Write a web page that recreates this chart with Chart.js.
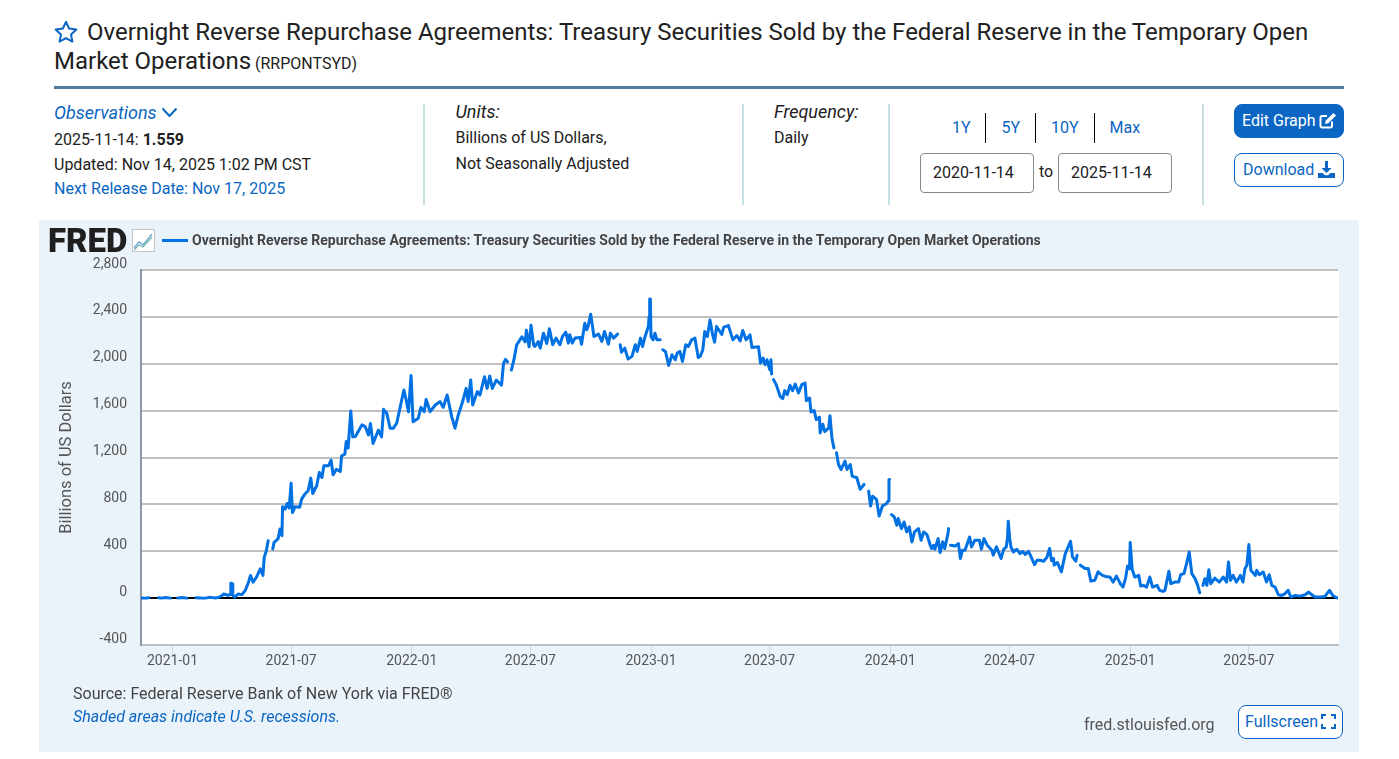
<!DOCTYPE html>
<html><head><meta charset="utf-8">
<title>RRPONTSYD</title>
<script src="https://cdn.jsdelivr.net/npm/chart.js@4"></script>
<style>
html,body{margin:0;padding:0;background:#fff;overflow:hidden}
body{width:1399px;height:759px;position:relative;font-family:Roboto,sans-serif;color:#212121;font-size:16px}
.t{position:absolute;line-height:20px;white-space:nowrap}
.b{color:#0a66c2}.i{font-style:italic;font-size:18px}
.v{position:absolute;top:104px;height:101px;width:2px;background:#c9dfe6}
.k{position:absolute;top:113px;height:30px;width:1px;background:#000}
.box{position:absolute;box-sizing:border-box;border:1px solid #8a8a8a;border-radius:4px;top:153px;height:40px;width:114px;line-height:38px;padding-left:12px;background:#fff}
.btn{position:absolute;box-sizing:border-box;left:1234px;width:110px;height:34px;border-radius:8px;border:1px solid #0a66c2;line-height:31px;padding-left:7px;white-space:nowrap}
svg{position:absolute}
#panel{position:absolute;left:39px;top:220px;width:1320px;height:532px;background:#eaf2fa}
#c{position:absolute;left:0;top:0}
</style></head><body>
<svg style="left:54px;top:20px" width="24" height="24" viewBox="0 0 24 24"><path d="M12 1.800l3.100 6.700 7.300.9-5.400 5 1.400 7.200L12 18.100l-6.400 3.500L7 14.400 1.600 9.400l7.300-.9z" fill="none" stroke="#0a66c2" stroke-width="2" stroke-linejoin="round"/></svg>
<div class="t" style="left:87px;top:17px;font-size:24px;line-height:30px;letter-spacing:-0.01px">Overnight Reverse Repurchase Agreements: Treasury Securities Sold by the Federal Reserve in the Temporary Open</div>
<div class="t" style="left:54px;top:46px;font-size:24px;line-height:30px">Market Operations <span style="font-size:16px;margin-left:-2px">(RRPONTSYD)</span></div>
<div style="position:absolute;left:54px;top:86px;width:1290px;height:3px;background:#507a9b"></div>

<div class="t b i" style="left:54px;top:103px">Observations</div>
<svg style="left:161px;top:107px" width="17" height="11" viewBox="0 0 17 11"><path d="M1.500 1.500L8.500 9l7-7.500" fill="none" stroke="#0a66c2" stroke-width="2"/></svg>
<div class="t" style="left:54px;top:130px">2025-11-14: <b>1.559</b></div>
<div class="t" style="left:54px;top:155px">Updated: Nov 14, 2025 1:02 PM CST</div>
<div class="t b" style="left:54px;top:179px">Next Release Date: Nov 17, 2025</div>
<div class="v" style="left:423px"></div>
<div class="t i" style="left:455.5px;top:102px">Units:</div>
<div class="t" style="left:455.5px;top:128px">Billions of US Dollars,</div>
<div class="t" style="left:455.5px;top:154px">Not Seasonally Adjusted</div>
<div class="v" style="left:742px"></div>
<div class="t i" style="left:774px;top:102px">Frequency:</div>
<div class="t" style="left:774px;top:128px">Daily</div>
<div class="v" style="left:888px"></div>
<div class="t b" style="left:952px;top:118px">1Y</div>
<div class="k" style="left:985px"></div>
<div class="t b" style="left:1001.5px;top:118px">5Y</div>
<div class="k" style="left:1035px"></div>
<div class="t b" style="left:1051px;top:118px">10Y</div>
<div class="k" style="left:1094px"></div>
<div class="t b" style="left:1109.5px;top:118px">Max</div>
<div class="box" style="left:920px">2020-11-14</div>
<div class="t" style="left:1039px;top:162px">to</div>
<div class="box" style="left:1058px">2025-11-14</div>
<div class="v" style="left:1202px"></div>
<div class="btn" style="top:104px;background:#0a66c2;color:#fff">Edit Graph</div>
<svg style="left:1319px;top:112px" width="18" height="17" viewBox="0 0 18 17"><path d="M13 9.500V14a1.500 1.500 0 0 1-1.500 1.500H3A1.500 1.500 0 0 1 1.500 14V5.500A1.500 1.500 0 0 1 3 4h5" fill="none" stroke="#fff" stroke-width="2"/><path d="M6 12l.6-3.300L14.500 1l2.500 2.500-7.700 7.800z" fill="#fff"/></svg>
<div class="btn b" style="top:153px;padding-left:8px">Download</div>
<svg style="left:1318px;top:161px" width="17" height="17" viewBox="0 0 17 17"><path d="M7 0h3v7h3.500L8.500 12 3.500 7H7z" fill="#0a66c2"/><path d="M0 12h4.500l2.500 2.200h3L12.500 12H17v5H0z" fill="#0a66c2"/></svg>

<div id="panel">
<canvas id="c" width="1320" height="532" style="width:1320px;height:532px"></canvas>
<div class="t" style="left:9px;top:6px;font-size:33px;line-height:30px;font-weight:900;color:#1f1f1f">FRED</div>
<svg style="left:93px;top:9px" width="23" height="23" viewBox="0 0 23 23"><rect x=".5" y=".5" width="22" height="22" fill="#fff" stroke="#c5c5c5"/><path d="M2 19l5-6 4 3 9-11" fill="none" stroke="#6aa6d8" stroke-width="1.300"/><path d="M2 21l5-5 4 2 9-10" fill="none" stroke="#79b8a5" stroke-width="1.300"/></svg>
<div style="position:absolute;left:123px;top:19px;width:26px;height:3px;background:#0071e3"></div>
<div class="t" style="left:153px;top:10px;font-size:14px;font-weight:700;color:#444">Overnight Reverse Repurchase Agreements: Treasury Securities Sold by the Federal Reserve in the Temporary Open Market Operations</div>
<div class="t" style="left:34px;top:464px;color:#444">Source: Federal Reserve Bank of New York via FRED®</div>
<div class="t b" style="left:34px;top:487px;font-style:italic">Shaded areas indicate U.S. recessions.</div>
<div class="t" style="left:1045px;top:495px;color:#555">fred.stlouisfed.org</div>
<div class="btn b" style="left:1199px;top:485px;width:105px;height:34px;background:#fff;padding-left:6px">Fullscreen</div>
<svg style="left:1282px;top:494px" width="15" height="15" viewBox="0 0 15 15"><path d="M1 5V1h4M10 1h4v4M14 10v4h-4M5 14H1v-4" fill="none" stroke="#0a66c2" stroke-width="2"/></svg>
</div>

<script>
const seriesName = "Overnight Reverse Repurchase Agreements";
const startDate = "2020-11-14";
const xTickLabels = ["2021-01","2021-07","2022-01","2022-07","2023-01","2023-07","2024-01","2024-07","2025-01","2025-07"];
const yTickValues = [-400,0,400,800,1200,1600,2000,2400,2800];
// observation day, counted from startDate
const obsDay = [0,6,12,20,27,31,38,45,50,56,63,70,76,84,92,98,105,112,118,123,126,133,136,137,139,140,143,148,154,159,164,167,171,176,182,186,188,191,194,196,201,203,209,212,215,216,220,223,226,229,231,235,242,245,250,255,259,262,268,272,276,279,286,290,293,298,304,306,311,313,316,320,323,327,337,342,347,350,354,362,367,370,375,380,385,390,395,401,404,408,412,415,423,427,432,435,441,449,456,461,467,474,479,484,489,493,496,499,503,506,513,517,524,528,532,536,542,550,553,556,559,562,565,569,573,581,586,588,592,595,599,601,606,609,614,619,623,628,633,639,643,648,652,654,658,662,670,672,677,680,682,686,691,698,703,707,713,716,721,727,729,731,733,738,743,749,754,757,762,765,769,774,775,776,777,778,781,784,787,792,794,796,800,805,810,815,818,822,826,831,835,840,845,850,853,857,860,864,868,872,875,878,886,889,896,903,909,914,918,923,929,932,942,945,949,952,955,959,961,962,963,965,969,975,979,982,986,990,994,998,1003,1008,1013,1015,1020,1022,1027,1030,1035,1036,1040,1043,1049,1051,1054,1057,1059,1061,1064,1068,1074,1077,1082,1085,1092,1097,1103,1105,1110,1113,1116,1122,1126,1131,1137,1140,1141,1142,1143,1145,1149,1153,1155,1160,1164,1168,1172,1176,1180,1186,1190,1194,1199,1204,1206,1209,1211,1216,1219,1223,1226,1231,1232,1234,1235,1242,1247,1250,1253,1257,1264,1267,1272,1279,1282,1286,1291,1298,1300,1305,1312,1316,1320,1322,1323,1325,1327,1331,1336,1341,1345,1349,1354,1359,1363,1367,1371,1377,1382,1386,1389,1391,1392,1393,1398,1404,1410,1418,1421,1426,1428,1430,1433,1440,1445,1449,1455,1460,1466,1473,1478,1483,1488,1494,1498,1502,1505,1508,1509,1510,1512,1516,1522,1525,1529,1534,1539,1543,1550,1554,1559,1562,1568,1571,1577,1583,1586,1591,1595,1599,1603,1608,1612,1615,1617,1620,1623,1626,1629,1632,1638,1645,1651,1656,1659,1662,1666,1671,1677,1681,1684,1687,1690,1693,1700,1702,1706,1712,1717,1721,1725,1730,1735,1740,1745,1750,1754,1761,1768,1776,1781,1786,1791,1799,1806,1813,1818,1824,1826];
// billions of US dollars; null marks a missing observation
const rrpValues = [2,0,4,null,3,0,5,0,null,2,6,0,null,4,1,0,8,2,5,20,35,25,30,128,122,25,8,35,30,65,136,193,136,178,250,193,349,400,490,null,420,476,505,590,533,780,760,808,769,980,730,780,775,845,888,916,1024,893,959,1072,1030,1130,1130,1177,1052,1100,1080,1214,1228,1336,1280,1597,1376,1380,1478,1464,1393,1490,1319,1433,1376,1611,1577,1450,1450,1492,1620,1776,1705,1590,1900,1506,1535,1628,1591,1696,1591,1648,1677,1628,1733,1549,1450,1563,1648,1725,1790,1677,1861,1648,1762,1733,1889,1790,1895,1790,1861,1818,2003,2037,2017,null,1946,2037,2159,2230,2187,2287,2145,2329,2159,2147,2190,2133,2261,2173,2298,2162,2219,2162,2233,2270,2176,2247,2176,2219,2224,2167,2346,2290,2318,2423,2233,2253,2190,2275,2167,2261,2219,2253,null,2162,2099,2133,2040,2063,2162,2105,2219,2147,2233,2318,2400,2553,2553,2233,2204,2261,2204,2204,null,2119,2105,1986,2077,2034,2091,2105,2020,2162,2147,2204,2219,2054,2062,2117,2275,2233,2374,2247,2184,2318,2250,2312,2326,2204,2241,2195,2284,2204,2247,2139,2145,2006,2049,1992,2034,1949,2034,1912,null,1864,1822,1722,1703,1771,1737,1816,1771,1827,1751,1822,1836,1685,1708,1589,1600,1524,1544,1410,1484,1422,1450,1557,1367,1282,null,1240,1140,1098,1169,1098,1140,1041,1027,928,970,null,913,786,870,842,700,786,806,830,1013,1013,null,713,693,622,680,593,650,565,608,480,565,593,494,565,542,451,423,451,417,508,389,480,423,550,593,null,451,445,465,338,409,409,522,437,494,494,417,508,451,409,366,437,338,417,437,520,656,520,437,394,417,380,400,372,400,338,286,323,323,315,349,423,320,null,338,281,304,224,380,485,352,315,366,null,281,253,253,145,153,224,196,182,180,137,188,123,94,171,274,251,474,474,246,180,194,103,109,94,180,94,109,66,57,66,229,123,137,137,200,209,294,394,209,166,109,46,null,109,166,109,243,123,171,137,180,137,309,151,194,137,194,137,251,280,457,237,194,237,200,223,137,200,109,94,29,23,37,66,9,23,17,29,51,29,9,9,14,66,23,3,1.559];

const dayOf = ym => Math.round((Date.parse(ym + "-01T00:00:00Z") - Date.parse(startDate + "T00:00:00Z")) / 864e5);
const endDay = 1826;
const labelByDay = Object.fromEntries(xTickLabels.map(l => [dayOf(l), l]));

const plotBackground = {
  id: "plotBackground",
  beforeDraw(chart) {
    const a = chart.chartArea, g = chart.ctx;
    g.save(); g.fillStyle = "#fff"; g.fillRect(a.left, a.top, a.right - a.left + 1, a.bottom - a.top); g.restore();
  }
};

new Chart(document.getElementById("c"), {
  type: "line",
  plugins: [plotBackground],
  data: { datasets: [{
    label: seriesName,
    data: obsDay.map((d, i) => ({ x: d, y: rrpValues[i] })),
    borderColor: "#0071e3", borderWidth: 3, pointRadius: 0, tension: 0, spanGaps: false, borderJoinStyle: "round", borderCapStyle: "round"
  }]},
  options: {
    responsive: false, animation: false, devicePixelRatio: 1,
    layout: { autoPadding: false, padding: { left: 0, right: 21, top: 50, bottom: 0 } },
    plugins: { legend: { display: false }, title: { display: false }, tooltip: { enabled: false } },
    scales: {
      x: {
        type: "linear", min: 0, max: endDay,
        afterBuildTicks: s => { s.ticks = Object.keys(labelByDay).map(d => ({ value: +d })); },
        afterFit: s => { s.height = 107; },
        border: { display: true, color: "#c0c0c0", width: 2 },
        grid: { drawOnChartArea: false, drawTicks: true, tickLength: 10, color: "#ccd6eb", lineWidth: 1 },
        ticks: { autoSkip: false, maxRotation: 0, padding: -2, color: "#555", font: { family: "Roboto", size: 14 }, callback: v => labelByDay[v] || "" }
      },
      y: {
        min: -400, max: 2800,
        afterBuildTicks: s => { s.ticks = yTickValues.map(v => ({ value: v })); },
        afterFit: s => { s.width = 102; },
        border: { display: true, color: "#8e98a5", width: 2 },
        grid: { drawTicks: false, lineWidth: 2, color: c => (c.tick && c.tick.value === 0 ? "#000" : "#c0c0c0") },
        ticks: { padding: 14, labelOffset: -6, color: "#555", font: { family: "Roboto", size: 14 }, callback: v => v.toLocaleString("en-US") },
        title: { display: true, text: "Billions of US Dollars", color: "#555", font: { family: "Roboto", size: 16.5 }, padding: { top: 18, bottom: 0 } }
      }
    }
  }
});
</script>
</body></html>
